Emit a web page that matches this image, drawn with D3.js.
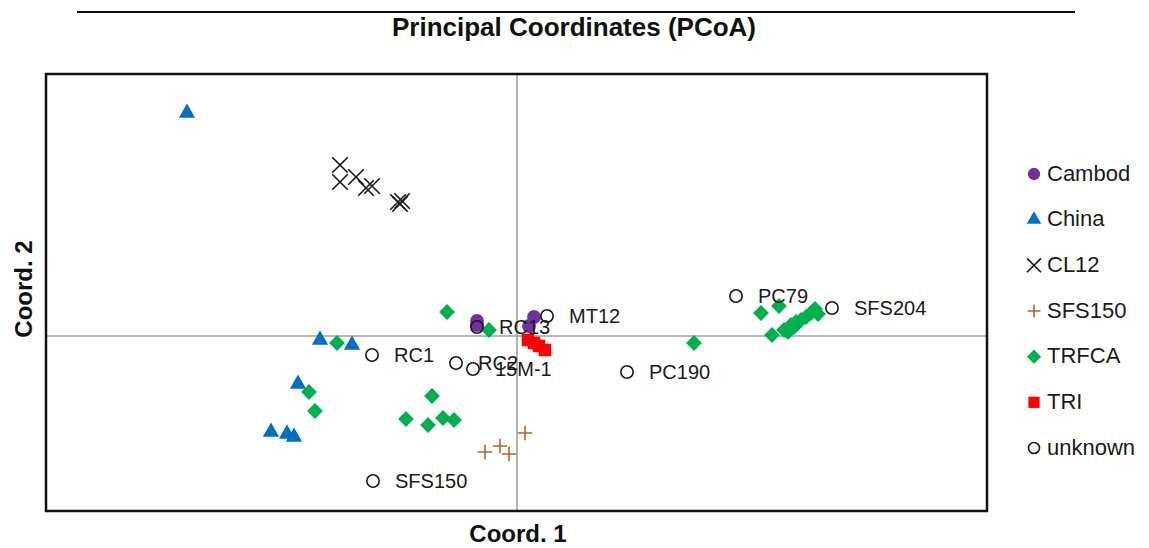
<!DOCTYPE html>
<html>
<head>
<meta charset="utf-8">
<script src="https://cdn.jsdelivr.net/npm/d3@7"></script>
<style>
  html, body { margin: 0; padding: 0; background: #fff; }
  svg { display: block; font-family: "Liberation Sans", Arial, sans-serif; }
</style>
</head>
<body>
<svg id="chart" width="1149" height="548"></svg>
<script>
// PCoA scores (Coord. 1, Coord. 2) per group
const cambod = [[-0.040, 0.015], [-0.040, 0.011], [0.017, 0.019], [0.012, 0.010]];
const china = [[-0.330, 0.223], [-0.197, -0.004], [-0.165, -0.009], [-0.219, -0.048],
               [-0.246, -0.096], [-0.230, -0.098], [-0.223, -0.101]];
const cl12 = [[-0.177, 0.171], [-0.177, 0.154], [-0.161, 0.159], [-0.151, 0.148],
              [-0.145, 0.150], [-0.119, 0.134], [-0.115, 0.135], [-0.117, 0.132]];
const sfs150 = [[0.008, -0.097], [-0.032, -0.116], [-0.017, -0.110], [-0.008, -0.118]];
const trfca = [[-0.070, 0.024], [-0.028, 0.006], [-0.180, -0.007], [-0.208, -0.056],
               [-0.202, -0.075], [-0.085, -0.060], [-0.111, -0.083], [-0.089, -0.089],
               [-0.074, -0.082], [-0.063, -0.084], [0.177, -0.007], [0.244, 0.023],
               [0.262, 0.030], [0.255, 0.001], [0.267, 0.006], [0.271, 0.004],
               [0.274, 0.011], [0.279, 0.014], [0.284, 0.016], [0.289, 0.019],
               [0.294, 0.023], [0.298, 0.027], [0.301, 0.022], [0.277, 0.009]];
const tri = [[0.011, -0.004], [0.017, -0.007], [0.022, -0.010], [0.028, -0.014]];
const unknownNames = ["RC1", "SFS150", "RC13", "RC2", "15M-1", "MT12", "PC190", "PC79", "SFS204"];
const unknownPts = [[-0.145, -0.019], [-0.144, -0.145], [-0.040, 0.009], [-0.061, -0.027],
                    [-0.044, -0.033], [0.030, 0.020], [0.110, -0.036], [0.219, 0.040], [0.315, 0.028]];

const groupNames = ["Cambod", "China", "CL12", "SFS150", "TRFCA", "TRI", "unknown"];

const svg = d3.select("#chart");
const frame = { left: 46, top: 74, right: 987, bottom: 511 };

const x = d3.scaleLinear().domain([-0.471, 0.470]).range([frame.left, frame.right]);
const y = d3.scaleLinear().domain([-0.175, 0.262]).range([frame.bottom, frame.top]);

// marker styles per group
const styles = {
  Cambod:  { type: d3.symbolCircle,   size: 150, fill: "#7030a0", stroke: "none" },
  China:   { type: d3.symbolTriangle, size: 115, fill: "#0070c0", stroke: "none" },
  CL12:    { type: d3.symbolTimes,    size: 160, fill: "none", stroke: "#1a1a1a", sw: 1.6 },
  SFS150:  { type: d3.symbolPlus,     size: 70,  fill: "none", stroke: "#b5662f", sw: 1.6 },
  TRFCA:   { type: d3.symbolDiamond2, size: 160, fill: "#00b050", stroke: "none" },
  TRI:     { type: d3.symbolSquare2,  size: 200, fill: "#ff0000", stroke: "none" },
  unknown: { type: d3.symbolCircle,   size: 120, fill: "none", stroke: "#1a1a1a", sw: 1.6 }
};

const seriesData = {
  Cambod: cambod, China: china, CL12: cl12, SFS150: sfs150,
  TRFCA: trfca, TRI: tri, unknown: unknownPts
};

// top rule and title
svg.append("line")
  .attr("x1", 77).attr("x2", 1075).attr("y1", 12).attr("y2", 12)
  .attr("stroke", "#111").attr("stroke-width", 2);

svg.append("text")
  .attr("x", 574).attr("y", 36)
  .attr("text-anchor", "middle")
  .attr("font-size", 26).attr("font-weight", "bold").attr("fill", "#111")
  .text("Principal Coordinates (PCoA)");

// zero lines
svg.append("line")
  .attr("x1", x(0)).attr("x2", x(0)).attr("y1", frame.top).attr("y2", frame.bottom)
  .attr("stroke", "#a0a0a0").attr("stroke-width", 1.6);
svg.append("line")
  .attr("x1", frame.left).attr("x2", frame.right).attr("y1", y(0)).attr("y2", y(0))
  .attr("stroke", "#a0a0a0").attr("stroke-width", 1.6);

// plot frame
svg.append("rect")
  .attr("x", frame.left).attr("y", frame.top)
  .attr("width", frame.right - frame.left).attr("height", frame.bottom - frame.top)
  .attr("fill", "none").attr("stroke", "#111").attr("stroke-width", 2.5);

// axis titles
svg.append("text")
  .attr("x", 518).attr("y", 542)
  .attr("text-anchor", "middle")
  .attr("font-size", 24).attr("font-weight", "bold").attr("fill", "#111")
  .text("Coord. 1");
svg.append("text")
  .attr("transform", "translate(32,289) rotate(-90)")
  .attr("text-anchor", "middle")
  .attr("font-size", 24).attr("font-weight", "bold").attr("fill", "#111")
  .text("Coord. 2");

// points
const plot = svg.append("g");
groupNames.forEach(name => {
  const s = styles[name];
  plot.append("g").attr("class", "series-" + name)
    .selectAll("path")
    .data(seriesData[name])
    .join("path")
    .attr("transform", d => `translate(${x(d[0])},${y(d[1])})`)
    .attr("d", d3.symbol().type(s.type).size(s.size))
    .attr("fill", s.fill)
    .attr("stroke", s.stroke)
    .attr("stroke-width", s.sw || 0);
});

// labels of the unknown samples
plot.append("g")
  .selectAll("text")
  .data(unknownPts)
  .join("text")
  .attr("x", d => x(d[0]) + 22)
  .attr("y", d => y(d[1]) + 2)
  .attr("dominant-baseline", "middle")
  .attr("font-size", 20).attr("fill", "#1a1a1a")
  .text((d, i) => unknownNames[i]);

// legend
const legend = svg.append("g");
const legendY = d3.scalePoint().domain(groupNames).range([174, 448]);
groupNames.forEach(name => {
  const s = styles[name];
  const ly = legendY(name);
  legend.append("path")
    .attr("transform", `translate(1034,${ly})`)
    .attr("d", d3.symbol().type(s.type).size(s.size * 0.8))
    .attr("fill", s.fill)
    .attr("stroke", s.stroke)
    .attr("stroke-width", s.sw || 0);
  legend.append("text")
    .attr("x", 1047).attr("y", ly + 1)
    .attr("dominant-baseline", "middle")
    .attr("font-size", 22).attr("fill", "#1a1a1a")
    .text(name);
});
</script>
</body>
</html>
